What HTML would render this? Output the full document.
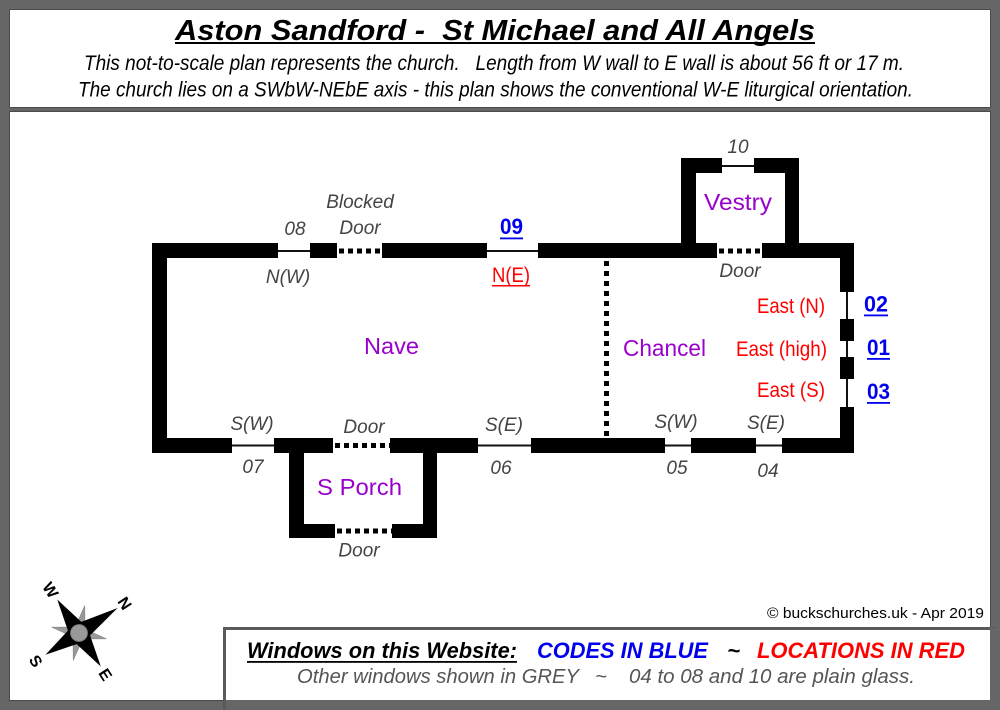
<!DOCTYPE html>
<html>
<head>
<meta charset="utf-8">
<style>
html,body{margin:0;padding:0;background:#666;}
svg{display:block;}
text{font-family:"Liberation Sans",Arial,sans-serif;white-space:pre;}
.g{font-style:italic;font-size:19px;fill:#444;}
.p{font-size:23px;fill:#9900cc;}
.r{font-size:21px;fill:#ff0000;}
.b{font-size:22px;font-weight:bold;fill:#0000ee;}
</style>
</head>
<body>
<svg width="1000" height="710" viewBox="0 0 1000 710" xmlns="http://www.w3.org/2000/svg">
  <rect x="0" y="0" width="1000" height="710" fill="#666"/>
  <!-- header panel -->
  <rect x="9.5" y="9.5" width="981" height="98" fill="#fff" stroke="#4a4a4a" stroke-width="1"/>
  <!-- main panel -->
  <rect x="9.5" y="111.5" width="981" height="589" fill="#fff" stroke="#4a4a4a" stroke-width="1"/>

  <!-- header text -->
  <text x="175" y="40" font-size="29" font-weight="bold" font-style="italic" fill="#000" textLength="640" lengthAdjust="spacingAndGlyphs">Aston Sandford -  St Michael and All Angels</text>
  <rect x="175" y="42" width="640" height="2" fill="#000"/>
  <text x="84" y="70" font-size="21" font-style="italic" fill="#000" textLength="820" lengthAdjust="spacingAndGlyphs">This not-to-scale plan represents the church.   Length from W wall to E wall is about 56 ft or 17 m.</text>
  <text x="78" y="96.5" font-size="21" font-style="italic" fill="#000" textLength="835" lengthAdjust="spacingAndGlyphs">The church lies on a SWbW-NEbE axis - this plan shows the conventional W-E liturgical orientation.</text>

  <!-- walls -->
  <g fill="#000">
    <rect x="152" y="243" width="15" height="210"/>
    <rect x="152" y="243" width="126" height="15"/>
    <rect x="310" y="243" width="27" height="15"/>
    <rect x="382" y="243" width="105" height="15"/>
    <rect x="538" y="243" width="179" height="15"/>
    <rect x="762" y="243" width="92" height="15"/>
    <rect x="681" y="158" width="15" height="100"/>
    <rect x="681" y="158" width="41" height="15"/>
    <rect x="754" y="158" width="45" height="15"/>
    <rect x="785" y="158" width="14" height="100"/>
    <rect x="840" y="243" width="14" height="49"/>
    <rect x="840" y="319" width="14" height="22"/>
    <rect x="840" y="357" width="14" height="22"/>
    <rect x="840" y="407" width="14" height="46"/>
    <rect x="152" y="438" width="80" height="15"/>
    <rect x="274" y="438" width="59" height="15"/>
    <rect x="390" y="438" width="88" height="15"/>
    <rect x="531" y="438" width="134" height="15"/>
    <rect x="691" y="438" width="65" height="15"/>
    <rect x="782" y="438" width="72" height="15"/>
    <rect x="289" y="453" width="15" height="85"/>
    <rect x="289" y="524" width="46" height="14"/>
    <rect x="392" y="524" width="45" height="14"/>
    <rect x="423" y="453" width="14" height="85"/>
  </g>

  <!-- window lines -->
  <g stroke="#111" stroke-width="2">
    <line x1="278" y1="251" x2="310" y2="251"/>
    <line x1="487" y1="251" x2="538" y2="251"/>
    <line x1="722" y1="166" x2="754" y2="166"/>
    <line x1="847" y1="292" x2="847" y2="319"/>
    <line x1="847" y1="341" x2="847" y2="357"/>
    <line x1="847" y1="379" x2="847" y2="407"/>
    <line x1="232" y1="445.5" x2="274" y2="445.5"/>
    <line x1="478" y1="445.5" x2="531" y2="445.5"/>
    <line x1="665" y1="445.5" x2="691" y2="445.5"/>
    <line x1="756" y1="445.5" x2="782" y2="445.5"/>
  </g>

  <!-- dotted doors -->
  <g stroke="#000" stroke-width="5" stroke-dasharray="5 4">
    <line x1="339" y1="251" x2="382" y2="251"/>
    <line x1="719" y1="251" x2="762" y2="251"/>
    <line x1="335" y1="445.5" x2="390" y2="445.5"/>
    <line x1="337" y1="531" x2="392" y2="531"/>
    <line x1="606.5" y1="261" x2="606.5" y2="437" stroke-dasharray="5 5"/>
  </g>

  <!-- grey labels -->
  <text class="g" x="295" y="235" text-anchor="middle">08</text>
  <text class="g" x="360" y="208" text-anchor="middle">Blocked</text>
  <text class="g" x="360" y="234" text-anchor="middle">Door</text>
  <text class="g" x="288" y="283" text-anchor="middle">N(W)</text>
  <text class="g" x="738" y="153" text-anchor="middle">10</text>
  <text class="g" x="740" y="277" text-anchor="middle">Door</text>
  <text class="g" x="252" y="430" text-anchor="middle">S(W)</text>
  <text class="g" x="253" y="473" text-anchor="middle">07</text>
  <text class="g" x="364" y="433" text-anchor="middle">Door</text>
  <text class="g" x="504" y="431" text-anchor="middle">S(E)</text>
  <text class="g" x="501" y="474" text-anchor="middle">06</text>
  <text class="g" x="359" y="556.5" text-anchor="middle">Door</text>
  <text class="g" x="676" y="428" text-anchor="middle">S(W)</text>
  <text class="g" x="677" y="474" text-anchor="middle">05</text>
  <text class="g" x="766" y="429" text-anchor="middle">S(E)</text>
  <text class="g" x="768" y="477" text-anchor="middle">04</text>

  <!-- purple room labels -->
  <text class="p" x="704" y="210" textLength="68" lengthAdjust="spacingAndGlyphs">Vestry</text>
  <text class="p" x="364" y="354" textLength="55" lengthAdjust="spacingAndGlyphs">Nave</text>
  <text class="p" x="623" y="356" textLength="83" lengthAdjust="spacingAndGlyphs">Chancel</text>
  <text class="p" x="317" y="495" textLength="85" lengthAdjust="spacingAndGlyphs">S Porch</text>

  <!-- red locations -->
  <text class="r" x="492" y="282" textLength="38" lengthAdjust="spacingAndGlyphs">N(E)</text>
  <rect x="492" y="285" width="38" height="1.5" fill="#ff0000"/>
  <text class="r" x="757" y="313" textLength="68" lengthAdjust="spacingAndGlyphs">East (N)</text>
  <text class="r" x="736" y="356" textLength="91" lengthAdjust="spacingAndGlyphs">East (high)</text>
  <text class="r" x="757" y="397" textLength="68" lengthAdjust="spacingAndGlyphs">East (S)</text>

  <!-- blue codes -->
  <text class="b" x="500" y="234" textLength="23" lengthAdjust="spacingAndGlyphs">09</text>
  <rect x="500" y="237.5" width="23" height="1.8" fill="#0000ee"/>
  <text class="b" x="864" y="311.5" textLength="24" lengthAdjust="spacingAndGlyphs">02</text>
  <rect x="864" y="314.5" width="24" height="1.8" fill="#0000ee"/>
  <text class="b" x="867" y="355" textLength="23" lengthAdjust="spacingAndGlyphs">01</text>
  <rect x="867" y="358" width="23" height="1.8" fill="#0000ee"/>
  <text class="b" x="867" y="399" textLength="23" lengthAdjust="spacingAndGlyphs">03</text>
  <rect x="867" y="402" width="23" height="1.8" fill="#0000ee"/>

  <!-- compass -->
  <g transform="translate(79,633) rotate(57)">
    <polygon points="0,-28 5,-5 28,0 5,5 0,28 -5,5 -28,0 -5,-5" transform="rotate(45)" fill="#999" stroke="#777" stroke-width="0.5"/>
    <polygon points="0,-46 8,-8 40,0 8,8 0,40 -8,8 -40,0 -8,-8" fill="#000"/>
    <circle cx="0" cy="0" r="8.5" fill="#999" stroke="#777" stroke-width="0.8"/>
    <text x="0" y="-49" font-size="16" font-weight="bold" text-anchor="middle" fill="#000">N</text>
    <text x="0" y="57" font-size="16" font-weight="bold" text-anchor="middle" fill="#000">S</text>
    <text x="44" y="6" font-size="16" font-weight="bold" text-anchor="start" fill="#000">E</text>
    <text x="-44" y="6" font-size="16" font-weight="bold" text-anchor="end" fill="#000">W</text>
  </g>

  <!-- copyright -->
  <text x="767" y="618" font-size="15" fill="#000" textLength="217" lengthAdjust="spacingAndGlyphs">© buckschurches.uk - Apr 2019</text>

  <!-- legend box -->
  <rect x="224.5" y="628.5" width="770" height="80" fill="#fff" stroke="#5a5a5a" stroke-width="3"/>
  <rect x="226" y="700" width="774" height="10" fill="#666"/>
  <rect x="990" y="628" width="10" height="82" fill="#666"/>

  <text x="247" y="658" font-size="22" font-weight="bold" font-style="italic" fill="#000" textLength="270" lengthAdjust="spacingAndGlyphs">Windows on this Website:</text>
  <rect x="247" y="661" width="270" height="1.8" fill="#000"/>
  <text x="537" y="658" font-size="22" font-weight="bold" font-style="italic" fill="#0000ee" textLength="171" lengthAdjust="spacingAndGlyphs">CODES IN BLUE</text>
  <text x="734" y="658" font-size="22" font-weight="bold" fill="#000" text-anchor="middle">~</text>
  <text x="757" y="658" font-size="22" font-weight="bold" font-style="italic" fill="#ff0000" textLength="208" lengthAdjust="spacingAndGlyphs">LOCATIONS IN RED</text>

  <text x="297" y="683" font-size="20" font-style="italic" fill="#555" textLength="282" lengthAdjust="spacingAndGlyphs">Other windows shown in GREY</text>
  <text x="601" y="683" font-size="20" font-style="italic" fill="#555" text-anchor="middle">~</text>
  <text x="629" y="683" font-size="20" font-style="italic" fill="#555" textLength="286" lengthAdjust="spacingAndGlyphs">04 to 08 and 10 are plain glass.</text>
</svg>
</body>
</html>
